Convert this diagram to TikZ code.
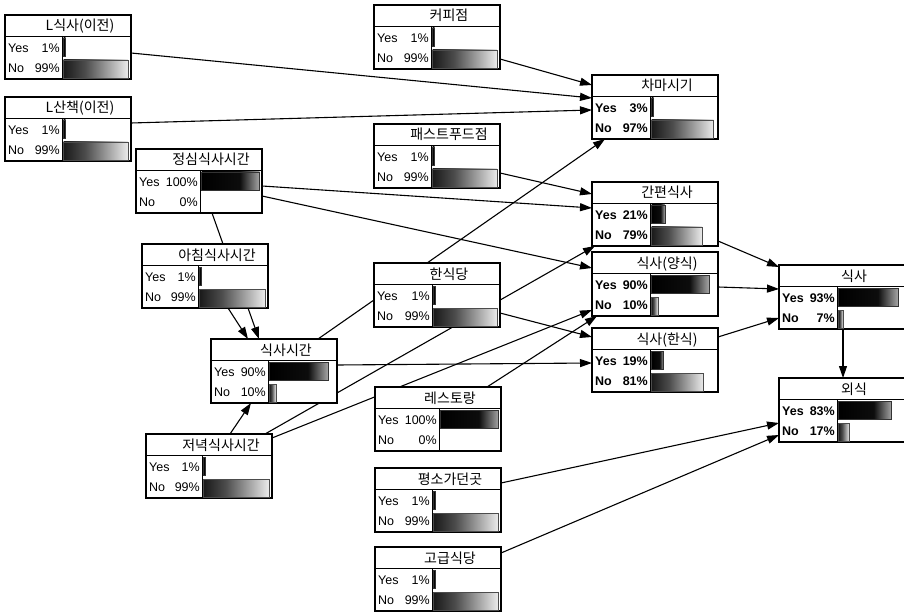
\documentclass[tikz,border=0pt]{standalone}
\usepackage{fontspec}
\setmainfont{Liberation Sans}
\newfontfamily\krfont{Noto Sans CJK KR}
\usetikzlibrary{arrows.meta}
\pgfdeclarelayer{bg}
\pgfsetlayers{bg,main}
\pgfdeclarehorizontalshading{yesshade}{100bp}{color(0bp)=(black); color(25bp)=(black); color(58bp)=(black!95); color(75bp)=(black!35); color(100bp)=(black!35)}
\pgfdeclarehorizontalshading{noshade}{100bp}{color(0bp)=(black!90); color(25bp)=(black!90); color(42bp)=(black!70); color(75bp)=(black!8); color(100bp)=(black!8)}
\tikzset{
  bnframe/.style={draw=black, line width=1.2pt, fill=white, minimum width=126pt, minimum height=64pt, inner sep=0pt, outer sep=0pt},
  bnline/.style={line width=0.9pt},
  bntitle/.style={font=\krfont\fontsize{14}{14}\selectfont, inner sep=0pt, anchor=base},
  bnlbl/.style={font=\fontsize{12.5}{12.5}\selectfont, inner sep=0pt},
  yesbar/.style={shade, shading=yesshade, draw=black!80, line width=0.4pt},
  nobar/.style={shade, shading=noshade, draw=black!70, line width=0.4pt},
  link/.style={line width=1.1pt, draw=black},
  arr/.style={link, -{Triangle[length=12pt,width=8pt]}},
}
\newcommand\bnbox[8]{%
  \node[bnframe, anchor=north west] (#1) at (#2,#3) {};
  \draw[bnline] ([yshift=-21pt]#1.north west) -- ([yshift=-21pt]#1.north east);
  \draw[bnline] ([xshift=#4pt,yshift=-21pt]#1.north west) -- ([xshift=#4pt]#1.south west);
  \node[bntitle] (#1-t) at ([xshift=75pt,yshift=-16pt]#1.north west) {#5};
  \node[bnlbl, anchor=base west] (#1-yl) at ([xshift=3pt,yshift=-37.5pt]#1.north west) {#8Yes};
  \node[bnlbl, anchor=base east] (#1-yp) at ([xshift=#4pt-2pt,yshift=-37.5pt]#1.north west) {#8#6\%};
  \node[bnlbl, anchor=base west] (#1-nl) at ([xshift=3pt,yshift=-57.5pt]#1.north west) {#8No};
  \node[bnlbl, anchor=base east] (#1-np) at ([xshift=#4pt-2pt,yshift=-57.5pt]#1.north west) {#8#7\%};
  \pgfmathsetlengthmacro\bnylen{max(2,#6*(122-#4)/100)}%
  \pgfmathsetlengthmacro\bnnlen{max(2,#7*(122-#4)/100)}%
  \ifnum#6>0 \path[yesbar] ([xshift=#4pt+1.5pt,yshift=-23pt]#1.north west) rectangle ++(\bnylen,-18pt);\fi
  \ifnum#7>0 \path[nobar] ([xshift=#4pt+1.5pt,yshift=-45pt]#1.north west) rectangle ++(\bnnlen,-18pt);\fi
}
\begin{document}
\begin{tikzpicture}[x=1pt,y=-1pt]
\useasboundingbox (0,0) rectangle (904,612);
\bnbox{lsik}{5}{15}{57}{L식사(이전)}{1}{99}{\mdseries}
\bnbox{lsan}{5}{97}{57}{L산책(이전)}{1}{99}{\mdseries}
\bnbox{jeong}{136}{149}{64}{정심식사시간}{100}{0}{\mdseries}
\bnbox{achim}{142}{244}{56}{아침식사시간}{1}{99}{\mdseries}
\bnbox{siksa}{211}{339}{57}{식사시간}{90}{10}{\mdseries}
\bnbox{jeonyeok}{146}{434}{56}{저녁식사시간}{1}{99}{\mdseries}
\bnbox{coffee}{374}{5}{57}{커피점}{1}{99}{\mdseries}
\bnbox{fast}{374}{124}{57}{패스트푸드점}{1}{99}{\mdseries}
\bnbox{hansikdang}{374}{263}{58}{한식당}{1}{99}{\mdseries}
\bnbox{resto}{375}{387}{64}{레스토랑}{100}{0}{\mdseries}
\bnbox{pyeongso}{375}{468}{57}{평소가던곳}{1}{99}{\mdseries}
\bnbox{gogeup}{375}{547}{57}{고급식당}{1}{99}{\mdseries}
\bnbox{cha}{592}{75}{58}{차마시기}{3}{97}{\bfseries}
\bnbox{ganpyeon}{592}{182}{58}{간편식사}{21}{79}{\bfseries}
\bnbox{yangsik}{592}{252}{58}{식사(양식)}{90}{10}{\bfseries}
\bnbox{hansik}{592}{328}{58}{식사(한식)}{19}{81}{\bfseries}
\bnbox{meal}{779}{265}{58}{식사}{93}{7}{\bfseries}
\bnbox{eat}{779}{378}{58}{외식}{83}{17}{\bfseries}
\begin{pgfonlayer}{bg}
\fill[white] (0,0) rectangle (904,612);
\draw[arr] ([yshift=-38pt]lsik.north east) -- ([yshift=-23pt]cha.north west);
\draw[arr] ([yshift=-26pt]lsan.north east) -- ([yshift=-35pt]cha.north west);
\draw[arr] ([yshift=-54pt]coffee.north east) -- ([yshift=-10pt]cha.north west);
\draw[arr] ([yshift=-49pt]fast.north east) -- ([yshift=-12pt]ganpyeon.north west);
\draw[arr] ([yshift=-37pt]jeong.north east) -- ([yshift=-26pt]ganpyeon.north west);
\draw[arr] ([yshift=-47pt]jeong.north east) -- ([yshift=-16pt]yangsik.north west);
\draw[link] ([xshift=76pt]jeong.south west) -- ([xshift=81pt]achim.north west);
\draw[arr] ([xshift=86pt]achim.south west) -- ([xshift=37pt]siksa.north west);
\draw[arr] ([xshift=106pt]achim.south west) -- ([xshift=48pt]siksa.north west);
\draw[arr] ([xshift=84pt]jeonyeok.north west) -- ([xshift=40pt]siksa.south west);
\draw[arr] ([xshift=107pt]siksa.north west) -- ([xshift=13pt]cha.south west);
\draw[arr] ([yshift=-26pt]siksa.north east) -- ([yshift=-35pt]hansik.north west);
\draw[arr] ([xshift=119pt]jeonyeok.north west) -- ([xshift=3pt]ganpyeon.south west);
\draw[arr] ([yshift=-4pt]jeonyeok.north east) -- ([yshift=-58pt]yangsik.north west);
\draw[arr] ([yshift=-50pt]hansikdang.north east) -- ([yshift=-9pt]hansik.north west);
\draw[arr] ([xshift=112pt]resto.north west) -- ([xshift=5pt]yangsik.south west);
\draw[arr] ([yshift=-59pt]ganpyeon.north east) -- ([yshift=-2pt]meal.north west);
\draw[arr] ([yshift=-35pt]yangsik.north east) -- ([yshift=-24pt]meal.north west);
\draw[arr] ([yshift=-9pt]hansik.north east) -- ([yshift=-53pt]meal.north west);
\draw[arr] ([xshift=64pt]meal.south west) -- ([xshift=64pt]eat.north west);
\draw[arr] ([yshift=-15pt]pyeongso.north east) -- ([yshift=-45pt]eat.north west);
\draw[arr] ([yshift=-6pt]gogeup.north east) -- ([yshift=-57pt]eat.north west);
\end{pgfonlayer}
\end{tikzpicture}
\end{document}
